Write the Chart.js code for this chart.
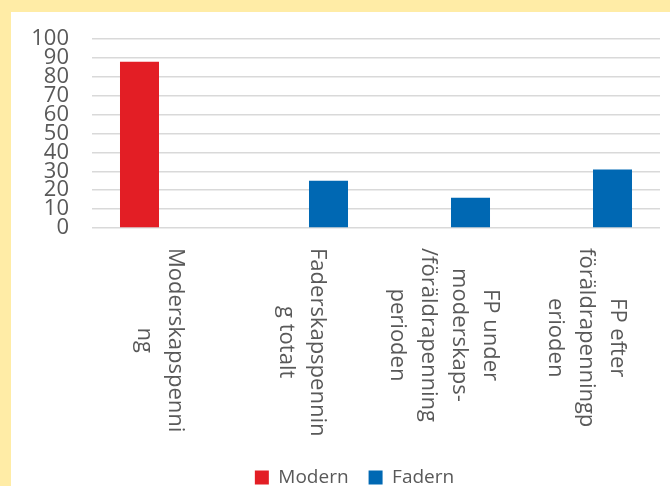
<!DOCTYPE html>
<html lang="sv">
<head>
<meta charset="utf-8">
<title>Modern och fadern</title>
<script src="https://cdn.jsdelivr.net/npm/chart.js@4.4.1/dist/chart.umd.min.js"></script>
<style>
    html, body { margin: 0; padding: 0; width: 670px; height: 486px; overflow: hidden; background: #ffeca6; }
    #wrap { position: absolute; left: 11px; top: 12px; width: 659px; height: 485px; background: #ffffff; }
</style>
</head>
<body>
<div id="wrap"><canvas id="parentChart" width="659" height="485"></canvas></div>
<script>
// kategorier (radbrutna som i originalet)
const categories = [
    ["Moderskapspenni", "ng"],
    ["Faderskapspennin", "g totalt"],
    ["FP under", "moderskaps-", "/föräldrapenning", "perioden"],
    ["FP efter", "föräldrapenningp", "erioden"]
];
const seriesNames = ["Modern", "Fadern"];
const modernValues = [88, null, null, null];
const fadernValues = [null, 25, 16, 31];

// y-axel
const yMin = 0;
const yMax = 100;
const yStep = 10;

const textColor = '#595959';
const gridColor = '#d9d9d9';
const colors = ['#e31e25', '#0068b3'];

document.addEventListener("DOMContentLoaded", () => {
    drawChart();
});

// x-etiketter roterade medurs, flera rader
const rotatedLabels = {
    id: 'rotatedLabels',
    afterLayout(chart) {
        // legenden ligger lite till höger om mitten i originalet
        chart.legend.left += 19;
        chart.legend.right += 19;
    },
    afterDraw(chart) {
        const ctx = chart.ctx;
        const xScale = chart.scales.x;
        const top = chart.chartArea.bottom + 20;
        const pitch = 31;
        ctx.save();
        ctx.font = "22px 'Open Sans'";
        ctx.fillStyle = textColor;
        ctx.textAlign = 'center';
        ctx.textBaseline = 'alphabetic';
        categories.forEach((lines, i) => {
            const cx = xScale.getPixelForValue(i);
            const longest = Math.max(...lines.map(l => ctx.measureText(l).width));
            ctx.save();
            ctx.translate(cx, top);
            ctx.rotate(Math.PI / 2);
            lines.forEach((line, j) => {
                const off = 9.4 - pitch * ((lines.length - 1) / 2 - j);
                ctx.fillText(line, longest / 2, off);
            });
            ctx.restore();
        });
        ctx.restore();
    }
};

function drawChart() {
    const ctx = document.getElementById('parentChart').getContext('2d');
    Chart.defaults.font.family = "'Open Sans', 'Noto Sans', sans-serif";
    Chart.defaults.color = textColor;

    new Chart(ctx, {
        type: 'bar',
        data: {
            labels: categories.map(c => c.join(' ')),
            datasets: [
                {
                    label: seriesNames[0],
                    data: modernValues,
                    backgroundColor: colors[0],
                    borderWidth: 0
                },
                {
                    label: seriesNames[1],
                    data: fadernValues,
                    backgroundColor: colors[1],
                    borderWidth: 0
                }
            ]
        },
        options: {
            responsive: false,
            animation: false,
            categoryPercentage: 0.662,
            barPercentage: 0.83,
            layout: {
                padding: { top: 27, left: 0, right: 10, bottom: 0 }
            },
            scales: {
                x: {
                    grid: { display: false },
                    border: { display: false },
                    ticks: { display: false },
                    afterFit: (scale) => { scale.height = 220; }
                },
                y: {
                    min: yMin,
                    max: yMax,
                    ticks: {
                        stepSize: yStep,
                        autoSkip: false,
                        padding: 23,
                        color: textColor,
                        font: { size: 22 }
                    },
                    grid: {
                        color: gridColor,
                        lineWidth: 1.5,
                        drawTicks: false
                    },
                    border: { display: false },
                    afterFit: (scale) => {
                        scale.width = 81;
                        scale.paddingTop = 0;
                        scale.paddingBottom = 0;
                    }
                }
            },
            plugins: {
                legend: {
                    position: 'bottom',
                    labels: {
                        boxWidth: 14,
                        boxHeight: 14,
                        padding: 20,
                        color: textColor,
                        font: { size: 19 }
                    }
                },
                tooltip: { enabled: false }
            }
        },
        plugins: [rotatedLabels]
    });
}
</script>
</body>
</html>
